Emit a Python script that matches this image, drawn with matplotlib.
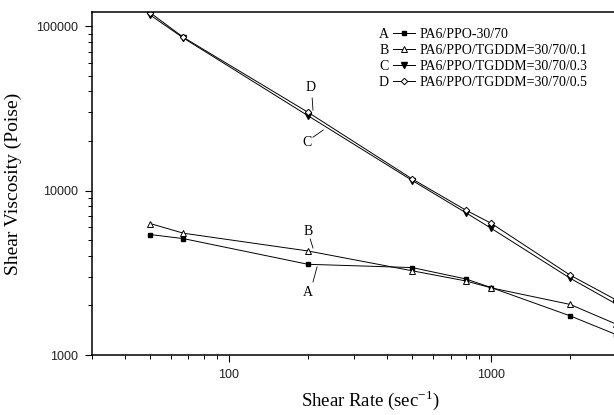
import numpy as np
import matplotlib
matplotlib.use('Agg')
from matplotlib import pyplot as plt
from matplotlib.ticker import LogLocator, FuncFormatter, NullFormatter

# shear rate (1/s)
shear_rate = [50, 67, 200, 500, 800, 1000, 2000, 3000]

# shear viscosity (Poise)
visc_a = [5400, 5100, 3560, 3400, 2900, 2570, 1730, 1330]
visc_b = [6300, 5500, 4290, 3250, 2820, 2560, 2030, 1540]
visc_c = [116700, 84500, 28500, 11500, 7330, 5890, 2930, 2040]
visc_d = [120500, 85300, 29900, 11750, 7600, 6320, 3060, 2160]

letters = ['A', 'B', 'C', 'D']
names = ['PA6/PPO-30/70', 'PA6/PPO/TGDDM=30/70/0.1',
         'PA6/PPO/TGDDM=30/70/0.3', 'PA6/PPO/TGDDM=30/70/0.5']

plt.rcParams['font.family'] = ['Liberation Serif', 'DejaVu Serif']

W, H = 614, 415
fig = plt.figure(figsize=(W / 100, H / 100), dpi=100)
ax = fig.add_axes([92 / W, 60 / H, 557 / W, 343 / H])

styles = [
    dict(marker='s', mfc='black', mec='black', ms=3),
    dict(marker='^', mfc='white', mec='black', ms=3.8, mew=0.7),
    dict(marker='v', mfc='black', mec='black', ms=3.8),
    dict(marker='D', mfc='white', mec='black', ms=3.3, mew=0.7),
]
handles = []
for vals, st in zip([visc_a, visc_b, visc_c, visc_d], styles):
    h, = ax.plot(shear_rate, vals, color='black', lw=0.7, **st)
    handles.append(h)

ax.set_xscale('log')
ax.set_yscale('log')
ax.set_xlim(30, 4000)
ax.set_ylim(1000, 121700)

ax.xaxis.set_major_locator(LogLocator(base=10, numticks=10))
ax.xaxis.set_minor_locator(LogLocator(base=10, subs=np.arange(2, 10), numticks=20))
ax.yaxis.set_major_locator(LogLocator(base=10, numticks=10))
ax.yaxis.set_minor_locator(LogLocator(base=10, subs=np.arange(2, 10), numticks=20))
fmt = FuncFormatter(lambda v, p: '%d' % int(round(v)))
ax.xaxis.set_major_formatter(fmt)
ax.yaxis.set_major_formatter(fmt)
ax.xaxis.set_minor_formatter(NullFormatter())
ax.yaxis.set_minor_formatter(NullFormatter())

ax.tick_params(which='major', direction='out', length=5, width=0.8, pad=5,
               labelsize=9, labelcolor='#222222')
ax.tick_params(which='minor', direction='out', length=3, width=0.7)
for lab in ax.get_xticklabels() + ax.get_yticklabels():
    lab.set_family('Liberation Sans')

for s in ['left', 'bottom', 'top']:
    ax.spines[s].set_linewidth(1.1)
ax.spines['right'].set_visible(False)

ax.set_xlabel('Shear Rate (sec$^{\\mathregular{-1}}$)', fontsize=13.5, labelpad=5)
ax.set_ylabel('Shear Viscosity (Poise)', fontsize=14, labelpad=10)

# letter callouts with leader lines
callouts = [
    ('D', (204, 42000), (207.5, 36500), (209, 30800)),
    ('C', (198.6, 19700), (209, 21100), (228.6, 23300)),
    ('B', (200, 5600), (204, 5070), (209, 4470)),
    ('A', (200, 2415), (209, 2780), (216.6, 3430)),
]
for let, pos, p0, p1 in callouts:
    ax.text(pos[0], pos[1], let, fontsize=10, ha='center', va='center')
    ax.plot([p0[0], p1[0]], [p0[1], p1[1]], color='black', lw=0.6)

leg = ax.legend(handles, names, loc='upper left',
                bbox_to_anchor=(393 / W, 1 - 28 / H), bbox_transform=fig.transFigure,
                frameon=False, fontsize=10, handlelength=1.6, handletextpad=0.3,
                labelspacing=0.22, borderpad=0, borderaxespad=0)

fig.canvas.draw()
rend = fig.canvas.get_renderer()
for t, let in zip(leg.get_texts(), letters):
    bb = t.get_window_extent(rend)
    yc = (bb.y0 + bb.y1) / 2
    fig.text(384 / W, yc / H, let, fontsize=10, ha='center', va='center')

fig.savefig('out.png', dpi=100)
